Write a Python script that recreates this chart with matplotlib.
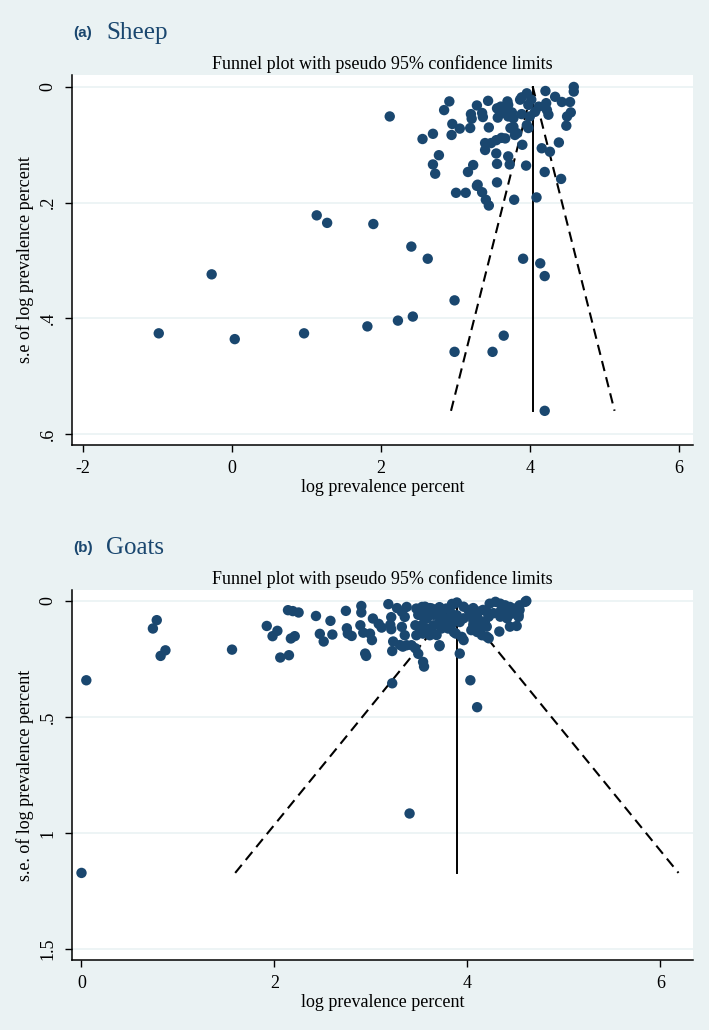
import matplotlib
matplotlib.use("Agg")
import matplotlib.pyplot as plt

# values
sheep_x = [-0.98, 0.04, 0.97, 1.82, 2.23, 2.43, -0.27, 1.14, 1.28, 1.90, 2.41, 2.63,
           2.99, 2.99, 3.50, 3.65, 3.91, 4.14, 4.20, 4.20, 2.12, 3.01, 3.14, 3.29,
           3.36, 3.41, 3.45, 3.56, 3.79, 4.09,
           2.56, 2.70, 2.85, 2.92, 2.96, 2.95, 3.06, 3.20, 3.21, 3.22, 3.29, 3.36,
           3.37, 3.44, 3.45, 3.56, 3.57, 3.61, 3.65, 3.70, 3.71, 3.76, 3.78, 3.87,
           3.89, 3.96, 3.98, 4.00, 4.07, 4.12, 4.21, 4.22, 4.23, 4.25, 4.34, 4.43,
           4.54, 4.55, 4.50, 4.49, 4.59, 4.59, 3.74, 3.78, 3.83, 3.98, 3.62, 3.55,
           3.48, 3.40, 3.40, 3.55, 3.67, 3.71, 3.73, 3.56, 3.90, 3.95, 4.16, 4.27,
           4.39, 4.20, 4.42, 2.78, 2.70, 2.73, 3.24, 3.17, 3.30, 3.60, 3.71, 3.80,
           3.96, 4.02, 3.89]
sheep_se = [0.426, 0.436, 0.426, 0.414, 0.404, 0.397, 0.324, 0.222, 0.235, 0.237, 0.276, 0.297,
            0.369, 0.458, 0.458, 0.430, 0.297, 0.305, 0.327, 0.560, 0.051, 0.183, 0.183, 0.171,
            0.182, 0.195, 0.205, 0.165, 0.195, 0.191,
            0.090, 0.081, 0.040, 0.025, 0.064, 0.083, 0.072, 0.071, 0.047, 0.055, 0.032, 0.045,
            0.052, 0.024, 0.070, 0.037, 0.053, 0.034, 0.045, 0.025, 0.051, 0.044, 0.054, 0.022,
            0.047, 0.011, 0.031, 0.051, 0.043, 0.034, 0.007, 0.028, 0.040, 0.048, 0.017, 0.026,
            0.026, 0.044, 0.051, 0.067, 0.000, 0.008, 0.071, 0.069, 0.080, 0.071, 0.088, 0.092,
            0.097, 0.097, 0.109, 0.115, 0.089, 0.120, 0.134, 0.133, 0.100, 0.136, 0.106, 0.112,
            0.096, 0.147, 0.159, 0.118, 0.134, 0.150, 0.135, 0.147, 0.169, 0.043, 0.031, 0.083,
            0.066, 0.022, 0.018]

goat_x = [0.05, 0.78, 0.74, 0.87, 0.82, 1.56, 1.92, 2.03, 1.98, 2.06, 2.15, 2.17,
          2.21, 2.14, 2.19, 2.25, 2.43, 2.58, 2.47, 2.51, 2.60, 2.74, 2.75, 2.76,
          2.80, 2.90, 2.90, 2.89, 2.92, 2.94, 2.95, 2.99, 3.01, 3.02, 3.08, 3.11,
          3.18, 3.21, 3.20, 3.21, 3.23, 3.22, 3.22, 3.27, 3.32, 3.37, 3.35, 3.32,
          3.35, 3.30, 3.33, 3.37, 3.42, 3.46, 3.47, 3.49, 3.54, 3.55, 3.46, 3.47,
          3.53, 3.56, 3.58, 3.63, 3.68, 3.73, 3.78, 3.53, 3.58, 3.65, 3.71, 3.54,
          3.61, 3.71, 3.51, 3.63, 3.68, 3.56, 3.61, 3.66, 3.71, 3.84, 3.89, 3.49,
          3.55, 3.65, 3.70, 3.75, 3.80, 3.85, 3.78, 3.84, 3.82, 3.89, 3.77, 3.84,
          3.92, 3.73, 3.80, 3.71, 3.86, 3.88, 3.94, 3.96, 3.92, 4.03, 4.10, 3.40,
          0.00,
          3.96, 4.01, 4.06, 4.11, 4.16, 4.23, 4.29, 4.34, 4.39, 4.44, 4.49, 4.54,
          4.60, 4.61, 3.96, 4.03, 4.10, 4.16, 4.22, 4.27, 4.34, 4.41, 4.47, 4.53,
          4.54, 4.34, 4.41, 4.20, 4.46, 4.53, 4.20, 4.06, 4.13, 4.20, 4.22, 4.33,
          4.44, 4.51, 4.04, 4.10, 4.15, 4.13, 4.18, 4.06]
goat_se = [0.342, 0.083, 0.119, 0.213, 0.237, 0.210, 0.108, 0.129, 0.152, 0.244, 0.234, 0.162,
           0.152, 0.040, 0.044, 0.050, 0.065, 0.086, 0.142, 0.175, 0.145, 0.043, 0.118, 0.141,
           0.151, 0.022, 0.050, 0.105, 0.137, 0.227, 0.237, 0.141, 0.169, 0.076, 0.099, 0.115,
           0.014, 0.070, 0.103, 0.122, 0.175, 0.216, 0.355, 0.031, 0.047, 0.026, 0.069, 0.112,
           0.148, 0.190, 0.197, 0.191, 0.191, 0.204, 0.148, 0.228, 0.263, 0.283, 0.105, 0.033,
           0.026, 0.047, 0.076, 0.033, 0.047, 0.040, 0.033, 0.105, 0.119, 0.105, 0.091, 0.141,
           0.148, 0.195, 0.132, 0.132, 0.147, 0.025, 0.031, 0.039, 0.027, 0.013, 0.007, 0.060,
           0.075, 0.060, 0.053, 0.070, 0.082, 0.060, 0.111, 0.019, 0.069, 0.062, 0.098, 0.098,
           0.091, 0.119, 0.119, 0.191, 0.135, 0.141, 0.155, 0.169, 0.227, 0.342, 0.458, 0.916,
           1.172,
           0.025, 0.039, 0.031, 0.046, 0.039, 0.012, 0.004, 0.012, 0.019, 0.026, 0.033, 0.019,
           0.004, 0.000, 0.075, 0.060, 0.068, 0.089, 0.068, 0.053, 0.046, 0.053, 0.046, 0.060,
           0.039, 0.068, 0.075, 0.047, 0.055, 0.069, 0.111, 0.103, 0.125, 0.154, 0.161, 0.132,
           0.111, 0.108, 0.126, 0.134, 0.148, 0.105, 0.091, 0.083]

sheep_pooled = 4.04
goat_pooled = 3.89

sheep_yticks = [0, 0.2, 0.4, 0.6]
sheep_ylabels = ["0", ".2", ".4", ".6"]
sheep_xticks = [-2, 0, 2, 4, 6]
goat_yticks = [0, 0.5, 1, 1.5]
goat_ylabels = ["0", ".5", "1", "1.5"]
goat_xticks = [0, 2, 4, 6]

bg = "#eaf2f3"
navy = "#1a476f"
serif = "Liberation Serif"

fig = plt.figure(figsize=(7.09, 10.30), dpi=100)
fig.patch.set_facecolor(bg)


def funnel(ax, xs, ses, pooled, xlim, ylim, xticks, yticks, ylabels, ylab):
    ax.set_facecolor("white")
    for t in yticks:
        ax.axhline(t, color=bg, lw=1.2, zorder=0)
    ax.scatter(xs, ses, s=56, color=navy, edgecolors="none", zorder=3)
    top = max(ses)
    half = 1.96 * top
    # pooled estimate and pseudo 95% limits
    ax.plot([pooled, pooled], [0, top], color="black", lw=1.4, zorder=2)
    ax.plot([pooled - half, pooled, pooled + half], [top, 0, top],
            color="black", lw=1.5, ls=(0, (5, 3)), zorder=2)
    ax.set_xlim(xlim)
    ax.set_ylim(ylim)
    ax.set_xticks(xticks)
    ax.set_xticklabels([str(t) for t in xticks], fontfamily=serif, fontsize=13)
    ax.set_yticks(yticks)
    ax.set_yticklabels(ylabels, fontfamily=serif, fontsize=13, rotation=90, va="center")
    ax.tick_params(direction="out", length=5, width=1, pad=6)
    for s in ["top", "right"]:
        ax.spines[s].set_visible(False)
    ax.spines["left"].set_linewidth(1.1)
    ax.spines["bottom"].set_linewidth(1.1)
    ax.set_xlabel("log prevalence percent", fontfamily=serif, fontsize=13, labelpad=1)
    ax.set_ylabel(ylab, fontfamily=serif, fontsize=13, labelpad=4)
    ax.set_title("Funnel plot with pseudo 95% confidence limits",
                 fontfamily=serif, fontsize=13, pad=4)


ax1 = fig.add_axes([0.1016, 0.5680, 0.8758, 0.3592])
funnel(ax1, sheep_x, sheep_se, sheep_pooled, (-2.144, 6.19), (0.619, -0.0207),
       sheep_xticks, sheep_yticks, sheep_ylabels, "s.e of log prevalence percent")

ax2 = fig.add_axes([0.1016, 0.0680, 0.8758, 0.3592])
funnel(ax2, goat_x, goat_se, goat_pooled, (-0.098, 6.337), (1.547, -0.047),
       goat_xticks, goat_yticks, goat_ylabels, "s.e. of log prevalence percent")

fig.text(0.104, 0.968, "(a)", fontfamily="Liberation Sans", fontweight="bold",
         fontsize=11, color=navy, va="center")
fig.text(0.150, 0.968, "Sheep", fontfamily=serif, fontsize=18, color=navy, va="center")
fig.text(0.104, 0.468, "(b)", fontfamily="Liberation Sans", fontweight="bold",
         fontsize=11, color=navy, va="center")
fig.text(0.150, 0.468, "Goats", fontfamily=serif, fontsize=18, color=navy, va="center")

fig.savefig("out.png", dpi=100, facecolor=bg)
